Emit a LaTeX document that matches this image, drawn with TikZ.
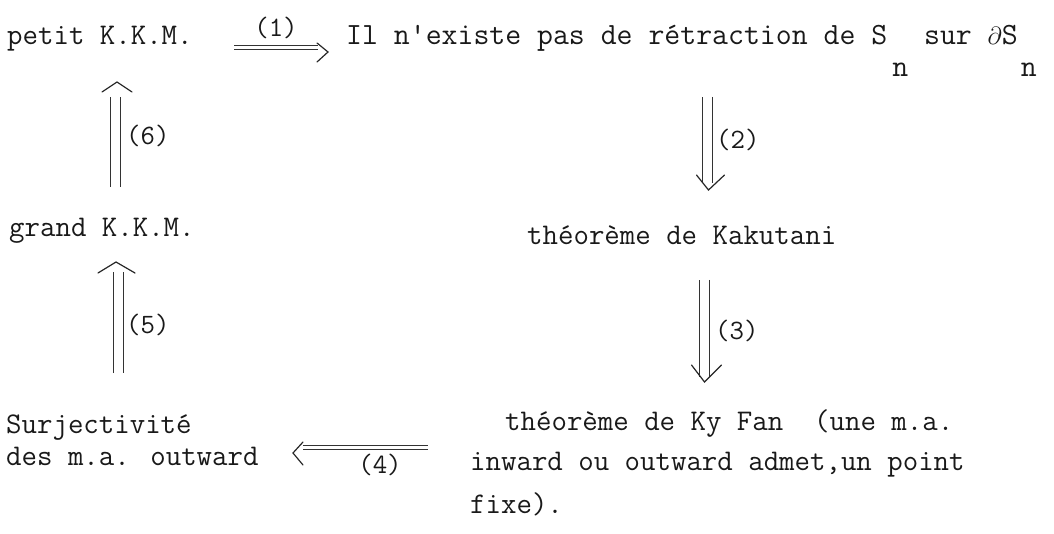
\documentclass[tikz,border=0pt]{standalone}
\usepackage{fontspec}
\usetikzlibrary{calc}
\newcommand\lown{\raisebox{-32pt}{n}}
\begin{document}
\begin{tikzpicture}[x=1pt,y=-1pt,
  txt/.style={anchor=base west, inner sep=0pt, text=black!90, font=\fontsize{30}{40}\selectfont\ttfamily},
  lbl/.style={inner sep=0pt, text=black!90, font=\fontsize{28}{30}\selectfont\ttfamily},
  railh/.style={double, double distance=3pt, line width=1pt, draw=black!80},
  railv/.style={double, double distance=9pt, line width=1pt, draw=black!80},
  chev/.style={line width=1.2pt, draw=black!85, line join=miter, line cap=round}]
\useasboundingbox (0,0) rectangle (1054,534);
% texts
\node[txt] (petit) at (7,45) {petit K.K.M.};
\node[txt,font=\fontsize{30.9}{40}\selectfont\ttfamily] (retr) at (346,45) {Il n'existe pas de rétraction de S\hspace{5pt}\lown{} sur $\partial$S\hspace{3pt}\lown};
\node[txt] (grand) at (9,237) {grand K.K.M.};
\node[txt] (kaku) at (527,245) {théorème de Kakutani};
\node[txt] (surj) at (6,433) {Surjectivité};
\node[txt] (desma) at (6,465) {des m.a. outward};
\node[txt] (kyfan1) at (505,430) {théorème de Ky Fan\ \ (une m.a.};
\node[txt] (kyfan2) at (470,470) {inward ou outward admet,un point};
\node[txt] (kyfan3) at (470,513) {fixe).};
% arrow (1)
\coordinate (a1s) at (234,48);
\coordinate (a1e) at (318,48);
\draw[railh] (a1s) -- (a1e);
\draw[chev] ($(a1e)+(-1,-5)$) -- ($(a1e)+(10,4)$) -- ($(a1e)+(-1,14)$);
\node[lbl] (l1) at (276,28) {(1)};
% arrow (2)
\coordinate (a2s) at (707.5,97);
\coordinate (a2e) at (707.5,183);
\draw[railv] (a2s) -- (a2e);
\draw[chev] ($(a2e)+(-11,-8)$) -- ($(a2e)+(1,7)$) -- ($(a2e)+(17,-8)$);
\node[lbl,anchor=west] (l2) at (716,140) {(2)};
% arrow (3)
\coordinate (a3s) at (704.5,280);
\coordinate (a3e) at (704.5,377);
\draw[railv] (a3s) -- (a3e);
\draw[chev] ($(a3e)+(-13,-12)$) -- ($(a3e)+(0,5)$) -- ($(a3e)+(17,-12)$);
\node[lbl,anchor=west] (l3) at (715,331) {(3)};
% arrow (4)
\coordinate (a4s) at (428,447);
\coordinate (a4e) at (303,447);
\draw[railh] (a4s) -- (a4e);
\draw[chev] ($(a4e)+(0,-5)$) -- ($(a4e)+(-10,6)$) -- ($(a4e)+(0,18)$);
\node[lbl] (l4) at (380,465) {(4)};
% arrow (5)
\coordinate (a5s) at (118,373);
\coordinate (a5e) at (118,272);
\draw[railv] (a5s) -- (a5e);
\draw[chev] ($(a5e)+(-20,1)$) -- ($(a5e)+(-2,-10)$) -- ($(a5e)+(17,1)$);
\node[lbl,anchor=west] (l5) at (126,325) {(5)};
% arrow (6)
\coordinate (a6s) at (115,187);
\coordinate (a6e) at (115,97);
\draw[railv] (a6s) -- (a6e);
\draw[chev] ($(a6e)+(-13,-5)$) -- ($(a6e)+(2,-15)$) -- ($(a6e)+(17,-5)$);
\node[lbl,anchor=west] (l6) at (126,136) {(6)};
\end{tikzpicture}
\end{document}
